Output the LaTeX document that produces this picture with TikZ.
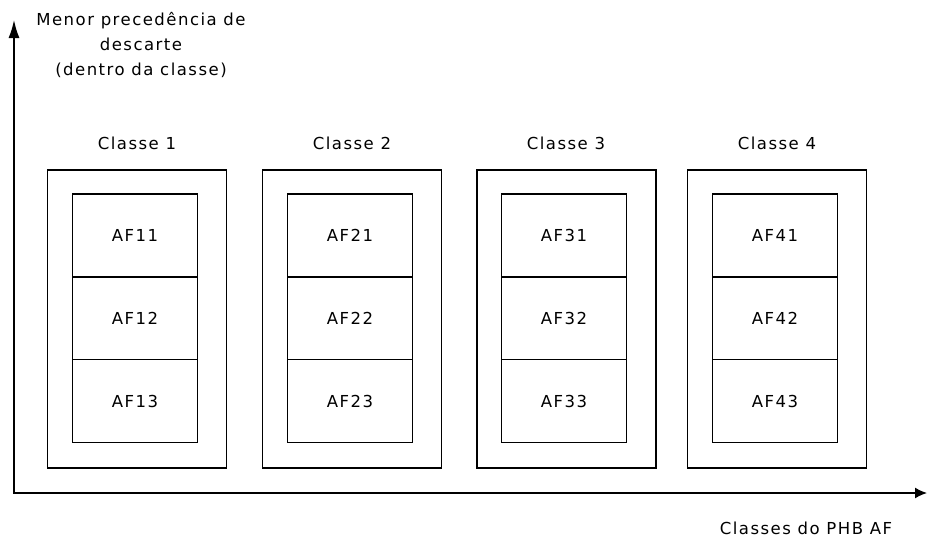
\documentclass[tikz,border=0pt]{standalone}
\usepackage{fontspec}
\newfontfamily\diagfont{DejaVu Sans}[LetterSpace=9]
\usetikzlibrary{positioning,arrows.meta}

\begin{document}
\begin{tikzpicture}[x=1pt,y=-1pt]

%
% Styles
%
\tikzstyle{axis}     = [line width=1.5pt,{Latex[length=18pt,width=11pt]}-{Latex[length=12pt,width=11pt]},line join=miter]
\tikzstyle{classbox} = [draw,line width=1.4pt,minimum width=179pt,minimum height=298pt,inner sep=0pt,outer sep=0pt]
\tikzstyle{cell}     = [draw,line width=1.4pt,minimum width=125pt,minimum height=82.8pt,inner sep=0pt,outer sep=0pt,font=\diagfont\fontsize{16.5}{25}\selectfont]
\tikzstyle{title}    = [font=\diagfont\fontsize{16.5}{25}\selectfont,inner sep=0pt]

\useasboundingbox (0,0) rectangle (927,539);

% axes
\coordinate (o)    at (14,493);
\coordinate (ytop) at (14,20);
\coordinate (xend) at (927,493);
\draw[axis] (ytop) -- (o) -- (xend);

\node[title,align=center] (ylabel) at (141,45) {Menor precedência de\\descarte\\(dentro da classe)};
\node[title] (xlabel) at (806,528) {Classes do PHB AF};

% classes
\node[classbox] (c1) at (137,319)   {};
\node[classbox] (c2) at (352,319)   {};
\node[classbox] (c3) at (566.5,319) {};
\node[classbox] (c4) at (777,319)   {};

\node[title] (t1) at (137,143) {Classe 1};
\node[title] (t2) at (352,143) {Classe 2};
\node[title] (t3) at (566,143) {Classe 3};
\node[title] (t4) at (777,143) {Classe 4};

% AF cells
\node[cell] (af11) at (135,235.5) {AF11};
\node[cell,below=0pt of af11] (af12) {AF12};
\node[cell,below=0pt of af12] (af13) {AF13};

\node[cell] (af21) at (350,235.5) {AF21};
\node[cell,below=0pt of af21] (af22) {AF22};
\node[cell,below=0pt of af22] (af23) {AF23};

\node[cell] (af31) at (564,235.5) {AF31};
\node[cell,below=0pt of af31] (af32) {AF32};
\node[cell,below=0pt of af32] (af33) {AF33};

\node[cell] (af41) at (775,235.5) {AF41};
\node[cell,below=0pt of af41] (af42) {AF42};
\node[cell,below=0pt of af42] (af43) {AF43};

\end{tikzpicture}
\end{document}
